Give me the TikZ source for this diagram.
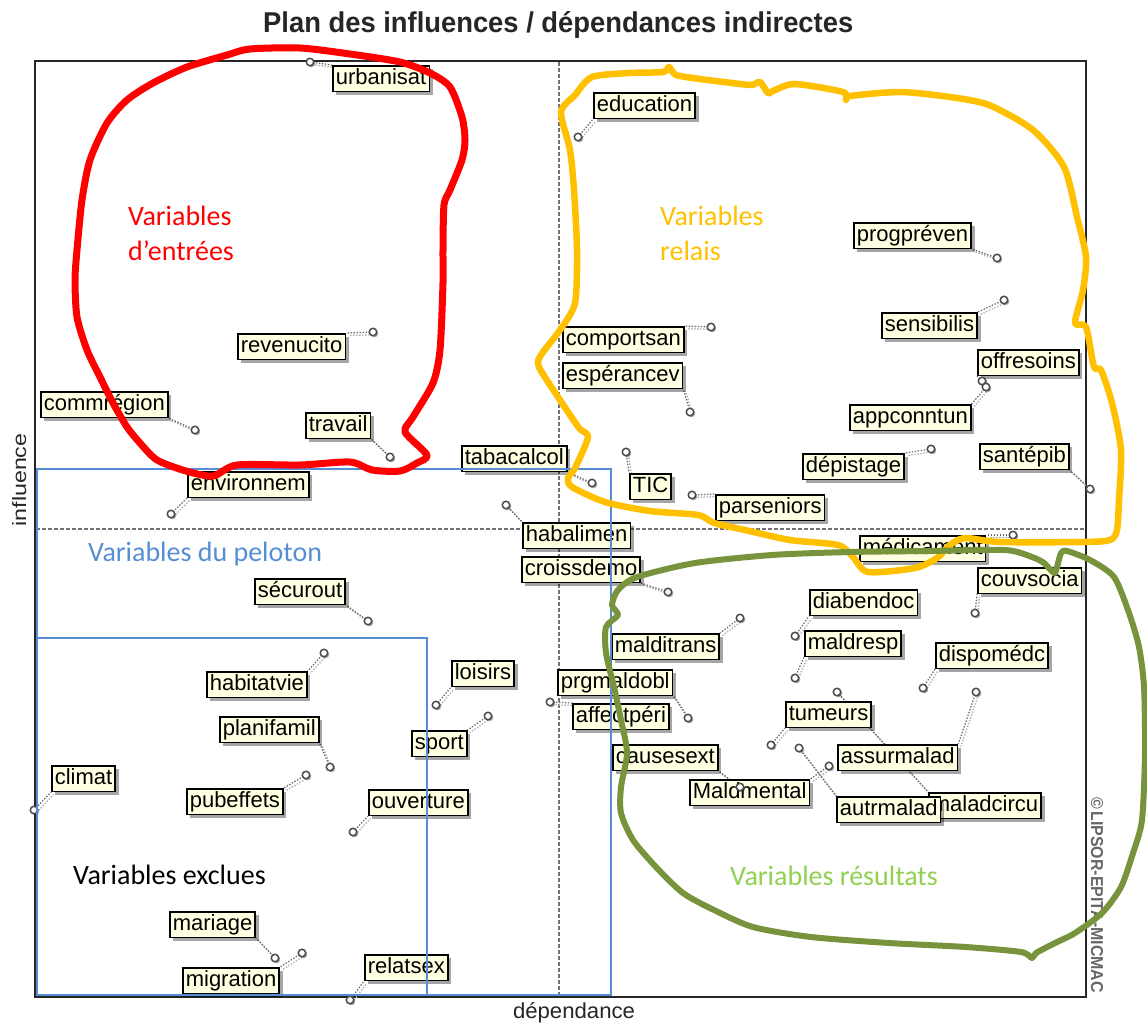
\documentclass[tikz,border=0pt]{standalone}
\usepackage{fontspec}
\setmainfont{Liberation Sans}
\newfontfamily\annfont{Carlito}
\usetikzlibrary{shadows}
\definecolor{cream}{RGB}{255,255,225}
\definecolor{penred}{RGB}{255,0,0}
\definecolor{penyellow}{RGB}{255,192,0}
\definecolor{pengreen}{RGB}{119,147,60}
\definecolor{txtgreen}{RGB}{146,208,80}
\definecolor{penblue}{RGB}{85,142,213}
\pgfdeclarelayer{back}
\pgfdeclarelayer{lead}
\pgfdeclarelayer{front}
\pgfsetlayers{back,lead,main,front}

% variable name / printed text / box north-west corner / point position / anchor the leader joins
\def\varlist{%
urbanisat/urbanisat/332/65/310/62/north west,
revenucito/revenucito/237/333/373/332/north east,
commregion/commrégion/40/391/195/430/south east,
travail/travail/305/412/390/457/south east,
environnem/environnem/187/471/171/514/south west,
securout/sécurout/254/578/368/621/south east,
habitatvie/habitatvie/206/671/324/653/north east,
planifamil/planifamil/219/716/330/767/south east,
climat/climat/51/765/34/810/south west,
pubeffets/pubeffets/186/788/306/775/north east,
ouverture/ouverture/368/789/353/832/south west,
loisirs/loisirs/451/660/436/705/south west,
sport/sport/411/730/488/716/north east,
mariage/mariage/169/911/275/958/south east,
migration/migration/182/967/302/953/north east,
relatsex/relatsex/364/954/350/1000/south west,
tabacalcol/tabacalcol/461/445/592/483/south east,
habalimen/habalimen/522/522/506/505/north west,
croissdemo/croissdemo/521/556/668/592/south east,
education/education/593/92/578/137/south west,
comportsan/comportsan/562/326/711/327/north east,
esperancev/espérancev/562/362/690/412/south east,
progpreven/progpréven/853/222/997/258/south east,
sensibilis/sensibilis/881/312/1004/300/north east,
offresoins/offresoins/977/349/982/381/south west,
appconntun/appconntun/849/404/986/387/north east,
depistage/dépistage/802/453/931/449/north east,
santepib/santépib/979/443/1090/489/south east,
TIC/TIC/629/473/626/452/north west,
parseniors/parseniors/715/494/692/495/north west,
medicament/médicament/859/535/1013/535/north east,
couvsocia/couvsocia/977/567/975/613/south west,
diabendoc/diabendoc/809/589/795/636/south west,
maldresp/maldresp/804/630/795/678/south west,
malditrans/malditrans/611/633/740/618/north east,
dispomedc/dispomédc/935/642/923/688/south west,
prgmaldobl/prgmaldobl/557/669/688/718/south east,
affectperi/affectpéri/572/703/550/702/north west,
tumeurs/tumeurs/785/701/771/745/south west,
causesext/causesext/612/744/740/787/south east,
assurmalad/assurmalad/837/744/976/692/north east,
maladcircu/maladcircu/928/792/837/692/north west,
Maldmental/Maldmental/689/779/829/766/north east,
autrmalad/autrmalad/836/796/799/748/north west}

\begin{document}
\begin{tikzpicture}[x=1pt,y=-1pt,
  lbl/.style={draw=black, line width=1.6pt, fill=cream, anchor=north west,
    font=\fontsize{22}{24}\selectfont, text height=15.5pt, text depth=4pt,
    inner xsep=3pt, inner ysep=3pt,
    drop shadow={shadow xshift=3.5pt, shadow yshift=-3.5pt, fill=black, opacity=0.35}},
  pt/.style={circle, draw=black!70, line width=1.5pt, fill=white, inner sep=0pt,
    minimum size=7.5pt,
    drop shadow={shadow xshift=1.5pt, shadow yshift=-1.5pt, fill=black, opacity=0.35}},
  leader/.style={draw=black!60, line width=1.2pt, dash pattern=on 1.4pt off 1.6pt,
    preaction={draw=black!30, line width=1.4pt, dash pattern=on 1.4pt off 1.6pt,
      transform canvas={shift={(2.5pt,-2.5pt)}}}},
  axis/.style={draw=black!55, line width=1.1pt, dash pattern=on 3.5pt off 2.5pt},
  pen/.style={line width=6.5pt, line join=round, line cap=round},
  ann/.style={font=\annfont\fontsize{28}{34}\selectfont, anchor=base west, inner sep=0pt}]

\useasboundingbox (0,0) rectangle (1147,1026);

\begin{pgfonlayer}{back}
  \fill[white] (0,0) rectangle (1147,1026);
  % plot frame and the two mean lines
  \draw[line width=1.6pt, black!85] (35,61) rectangle (1086,997);
  \draw[axis] (559,62) -- (559,996);
  \draw[axis] (36,529) -- (1085,529);
\end{pgfonlayer}

% titles
\node[anchor=base west, inner sep=0pt, text=black!85] (title) at (263,32)
  {\resizebox{590pt}{21pt}{\bfseries Plan des influences / dépendances indirectes}};
\node[anchor=base, rotate=90, inner sep=0pt, text=black!85] (ylab) at (26,480)
  {\resizebox{93pt}{14pt}{influence}};
\node[anchor=base, inner sep=0pt, text=black!85] (xlab) at (574,1018)
  {\resizebox{122pt}{16pt}{dépendance}};
\node[anchor=base, rotate=-90, inner sep=0pt, text=black!60] (copy) at (1091,895)
  {\resizebox{196pt}{12pt}{\bfseries ©\,LIPSOR-EPITA-MICMAC}};

% variable labels, their points and the leaders between them
\foreach \nm/\txt/\bx/\by/\px/\py/\anc in \varlist {
  \node[lbl] (\nm) at (\bx,\by) {\txt};
}
\foreach \nm/\txt/\bx/\by/\px/\py/\anc in \varlist {
  \node[pt] (d-\nm) at (\px,\py) {};
}
\begin{pgfonlayer}{lead}
  \foreach \nm/\txt/\bx/\by/\px/\py/\anc in \varlist {
    \draw[leader] (d-\nm.center) -- (\nm.\anc);
  }
\end{pgfonlayer}

\begin{pgfonlayer}{front}
  % cluster rectangles
  \draw[penblue, line width=1.5pt] (37,469) rectangle (611,995);
  \draw[penblue, line width=1.5pt] (37,638) rectangle (427,995);

  % hand-drawn loops
  \draw[pen, penred, line width=7pt] plot[smooth cycle, tension=0.45] coordinates {
    (250,49) (300,48) (350,54) (400,62) (430,73) (450,87) (462,117) (465,140)
    (462,160) (450,190) (444,205) (443,250) (443,283) (440,350) (433,383)
    (413,417) (405,432) (427,455) (417,463) (400,471) (372,470) (350,462)
    (300,465) (237,465) (213,476) (186,471) (157,460) (140,443) (127,427)
    (113,403) (100,377) (87,350) (77,317) (75,280) (77,250) (82,200) (90,160)
    (107,123) (127,100) (153,83) (187,67) (227,55)};

  \draw[pen, penyellow] plot[smooth cycle, tension=0.45] coordinates {
    (561,112) (575,95) (592,77) (630,73) (663,72) (669,67) (676,75) (700,79)
    (724,82) (751,85) (760,82) (768,93) (775,90) (795,84) (843,92) (846,100)
    (850,96) (900,92) (950,97) (989,105) (1033,130) (1064,167) (1077,217)
    (1086,257) (1083,290) (1075,323) (1086,327) (1094,367) (1101,370)
    (1112,403) (1121,450) (1119,500) (1117,530) (1110,540) (1083,542)
    (1000,542) (965,538) (950,545) (937,558) (915,568) (868,572) (853,557)
    (838,545) (790,540) (745,530) (714,523) (698,515) (650,511) (605,502)
    (572,487) (568,478) (575,468) (588,437) (579,428) (560,400) (539,367)
    (541,355) (560,330) (575,303) (577,250) (574,190) (570,150)};

  \draw[pen, pengreen, line width=6pt] plot[smooth cycle, tension=0.45] coordinates {
    (612,605) (618,590) (637,577) (695,563) (772,555) (850,552) (928,551)
    (1005,550) (1032,557) (1044,563) (1054,573) (1057,567) (1061,553)
    (1067,551) (1090,560) (1114,577) (1129,613) (1139,647) (1144,687)
    (1145,753) (1142,820) (1133,853) (1121,887) (1102,913) (1075,933)
    (1055,943) (1036,953) (1032,958) (1021,952) (966,947) (889,943)
    (811,937) (753,927) (714,910) (683,893) (656,867) (633,840) (621,813)
    (621,787) (627,753) (621,720) (614,687) (606,653) (606,627) (618,615)};

  % cluster names
  \node[ann, text=penred] (entrees1) at (128,225) {Variables};
  \node[ann, text=penred] (entrees2) at (128,260) {d’entrées};
  \node[ann, text=penyellow] (relais1) at (660,225) {Variables};
  \node[ann, text=penyellow] (relais2) at (660,260) {relais};
  \node[ann, text=penblue] (peloton) at (88,561) {Variables du peloton};
  \node[ann, text=black] (exclues) at (73,884) {Variables exclues};
  \node[ann, text=txtgreen] (resultats) at (730,885) {Variables résultats};
\end{pgfonlayer}
\end{tikzpicture}
\end{document}
